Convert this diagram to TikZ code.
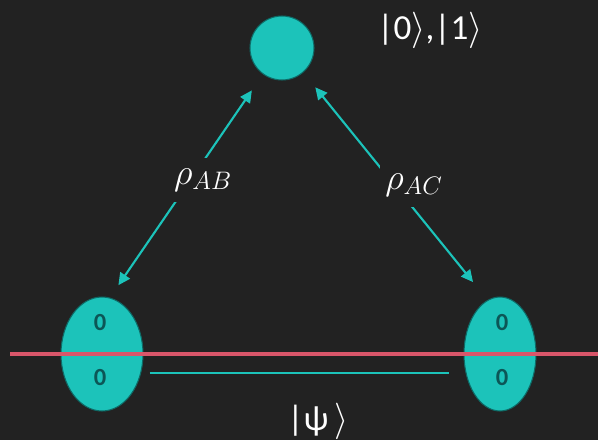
\documentclass[tikz,border=0pt]{standalone}
\usepackage{fontspec}
\setmainfont{Carlito}
\usetikzlibrary{arrows.meta,shapes.geometric}
\definecolor{bgdark}{HTML}{222222}
\definecolor{qteal}{HTML}{1CC3BA}
\definecolor{qedge}{HTML}{0E6A66}
\definecolor{qmark}{HTML}{0C5656}
\definecolor{cutred}{HTML}{D9566A}
\tikzset{
  qubit/.style={circle, draw=qedge, line width=0.6pt, fill=qteal, minimum size=1.28cm, inner sep=0pt},
  party/.style={ellipse, draw=qedge, line width=0.6pt, fill=qteal, minimum height=2.28cm,
                minimum width=#1, inner sep=0pt},
  zmark/.style={text=qmark, inner sep=0pt, font=\fontsize{14}{16}\selectfont\bfseries},
  arr/.style={{Triangle[length=2.4mm,width=2.3mm]}-{Triangle[length=2.4mm,width=2.3mm]},
              line width=1.2pt, draw=qteal},
  lbl/.style={text=white, fill=bgdark, inner xsep=3pt, inner ysep=6pt,
              font=\fontsize{21}{25}\selectfont},
  ket/.style={text=white, inner sep=0pt, font=\fontsize{20}{24}\selectfont},
  bond/.style={line width=1.5pt, draw=qteal},
  cutline/.style={line width=1.9pt, draw=cutred},
}
\begin{document}
\begin{tikzpicture}[x=0.02cm, y=0.02cm]
    \useasboundingbox[fill=bgdark] (0,0) rectangle (598,440);
    \node[qubit] (a) at (282,392) {};
    \node[party=1.64cm] (b) at (102,86) {};
    \node[party=1.44cm] (c) at (500,86) {};
    \node[ket] (basis) at (430,410) {|0$\rangle$,|1$\rangle$};
    % pairwise states
    \draw[arr, shorten <=3mm, shorten >=3.9mm] (b.82) -- (a.234);
    \draw[arr, shorten <=3.8mm, shorten >=4.6mm] (a.311) -- (c.103);
    \node[lbl] (rab) at (203,260) {$\rho_{AB}$};
    \node[lbl] (rac) at (414,255) {$\rho_{AC}$};
    % qubits inside the parties
    \node[zmark] (b0) at (100,117) {0};
    \node[zmark] (b1) at (100,62) {0};
    \node[zmark] (c0) at (502,117) {0};
    \node[zmark] (c1) at (502,62) {0};
    \coordinate (cutL) at (10,86);
    \coordinate (cutR) at (598,86);
    \draw[cutline] (cutL) -- (cutR);
    \draw[bond] ([shift={(6,-19)}]b.east) -- ([shift={(-14,-19)}]c.west);
    \node[ket] (psi) at (318,19) {|ψ\,$\rangle$};
  \end{tikzpicture}
\end{document}
